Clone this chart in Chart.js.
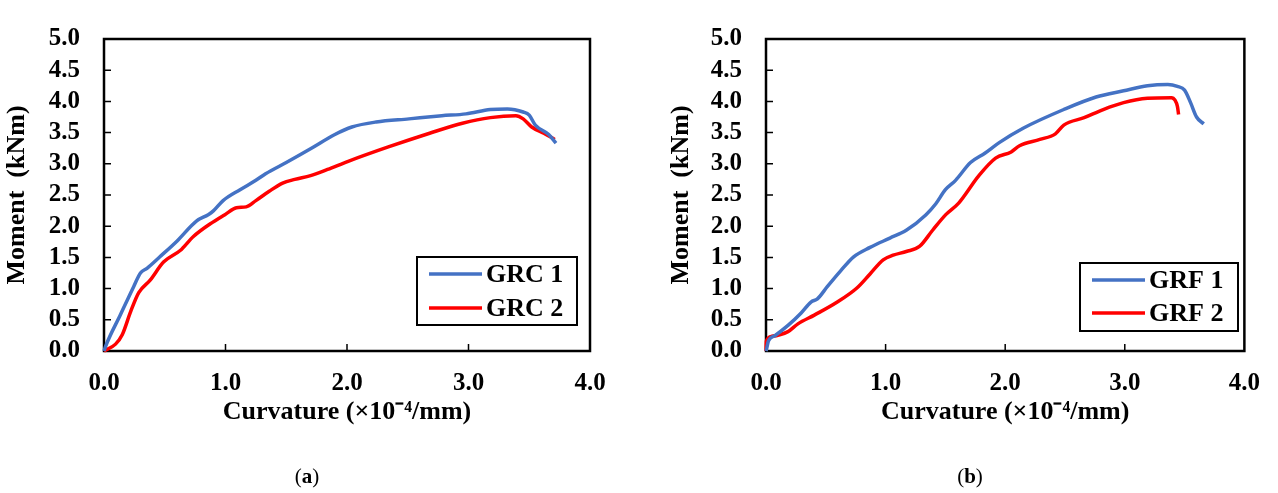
<!DOCTYPE html>
<html>
<head>
<meta charset="utf-8">
<script src="https://cdn.jsdelivr.net/npm/chart.js@4.4.0/dist/chart.umd.min.js"></script>
<style>
  body { margin: 0; background: #fff; }
  #wrap { position: relative; width: 1278px; height: 493px; background: #fff; overflow: hidden; }
  .panel { position: absolute; top: 0; height: 493px; }
  .cap { position: absolute; top: 464px; font: 21px "Liberation Serif", serif; color: #000; transform: translateX(-50%); }
</style>
</head>
<body>
<div id="wrap">
  <div class="panel" style="left:0;width:640px"><canvas id="chartA" width="640" height="493"></canvas></div>
  <div class="panel" style="left:640px;width:638px"><canvas id="chartB" width="638" height="493"></canvas></div>
  <div class="cap" style="left:307px">(<b>a</b>)</div>
  <div class="cap" style="left:970px">(<b>b</b>)</div>
</div>
<script>
// curvature (x10^-4/mm) and moment (kNm)
const grc1X = [0, 0.01, 0.136, 0.245, 0.30, 0.354, 0.46, 0.60, 0.763, 0.858, 0.90, 0.98, 1.12, 1.25, 1.33, 1.50, 1.70, 1.90, 2.04, 2.24, 2.51, 2.78, 2.98, 3.18, 3.32, 3.45, 3.50, 3.55, 3.66, 3.72];
const grc1Y = [0, 0.06, 0.585, 1.035, 1.25, 1.325, 1.51, 1.76, 2.085, 2.185, 2.245, 2.41, 2.585, 2.735, 2.84, 3.02, 3.24, 3.47, 3.59, 3.67, 3.72, 3.77, 3.80, 3.87, 3.88, 3.83, 3.78, 3.62, 3.47, 3.33];

const grc2X = [0, 0.01, 0.095, 0.15, 0.22, 0.286, 0.38, 0.49, 0.627, 0.736, 0.872, 0.995, 1.09, 1.17, 1.25, 1.36, 1.47, 1.57, 1.70, 1.84, 2.01, 2.34, 2.68, 2.95, 3.18, 3.39, 3.45, 3.52, 3.62, 3.71];
const grc2Y = [0, 0.01, 0.11, 0.26, 0.635, 0.935, 1.135, 1.425, 1.61, 1.835, 2.035, 2.185, 2.295, 2.31, 2.41, 2.56, 2.69, 2.75, 2.81, 2.91, 3.04, 3.27, 3.49, 3.65, 3.74, 3.77, 3.72, 3.59, 3.49, 3.39];

const grf1X = [0, 0.005, 0.02, 0.074, 0.184, 0.294, 0.376, 0.43, 0.514, 0.624, 0.733, 0.87, 1.036, 1.173, 1.338, 1.42, 1.50, 1.585, 1.71, 1.83, 1.95, 2.15, 2.49, 2.76, 2.99, 3.19, 3.36, 3.44, 3.50, 3.55, 3.60, 3.66];
const grf1Y = [0, 0.035, 0.16, 0.245, 0.41, 0.61, 0.785, 0.835, 1.035, 1.285, 1.51, 1.66, 1.81, 1.935, 2.185, 2.36, 2.585, 2.735, 3.02, 3.17, 3.34, 3.57, 3.87, 4.07, 4.17, 4.25, 4.27, 4.24, 4.18, 3.98, 3.75, 3.64];

const grf2X = [0, 0.003, 0.047, 0.184, 0.267, 0.404, 0.596, 0.76, 0.87, 0.98, 1.063, 1.173, 1.283, 1.393, 1.503, 1.613, 1.78, 1.92, 2.05, 2.12, 2.29, 2.42, 2.49, 2.66, 2.82, 2.99, 3.19, 3.39, 3.42, 3.44, 3.45];
const grf2Y = [0, 0.16, 0.235, 0.31, 0.435, 0.575, 0.785, 1.01, 1.235, 1.46, 1.535, 1.595, 1.675, 1.935, 2.185, 2.375, 2.81, 3.09, 3.19, 3.29, 3.39, 3.48, 3.62, 3.74, 3.87, 3.98, 4.05, 4.06, 4.02, 3.92, 3.79];

const xTitle = "Curvature (×10⁻⁴/mm)";
const yTitle = "Moment  (kNm)";

const BLUE = "#4472C4";
const RED = "#FF0000";

Chart.defaults.font.family = '"Liberation Serif", "Times New Roman", serif';
Chart.defaults.color = "#000";

function pts(xs, ys) {
  return xs.map((x, i) => ({ x: x, y: ys[i] }));
}

function series(label, xs, ys, color) {
  return {
    label: label,
    data: pts(xs, ys),
    borderColor: color,
    backgroundColor: color,
    borderWidth: 3.5,
    pointRadius: 0,
    cubicInterpolationMode: "monotone",
    clip: false,
  };
}

// box around the plot, inward ticks and the boxed legend
const framePlugin = {
  id: "frame",
  beforeDatasetsDraw(chart) {
    const { ctx, chartArea: a, scales } = chart;
    ctx.save();
    ctx.strokeStyle = "#000";
    ctx.lineWidth = 1.5;
    ctx.beginPath();
    scales.x.ticks.forEach((t) => {
      if (t.value <= scales.x.min || t.value >= scales.x.max) return;
      const px = scales.x.getPixelForValue(t.value);
      ctx.moveTo(px, a.bottom);
      ctx.lineTo(px, a.bottom - 7);
    });
    scales.y.ticks.forEach((t) => {
      if (t.value <= scales.y.min || t.value >= scales.y.max) return;
      const py = scales.y.getPixelForValue(t.value);
      ctx.moveTo(a.left, py);
      ctx.lineTo(a.left + 7, py);
    });
    ctx.stroke();
    ctx.lineWidth = 2.5;
    ctx.strokeRect(a.left, a.top, a.right - a.left, a.bottom - a.top);
    ctx.restore();
  },
  afterDraw(chart, args, opts) {
    if (!opts.box) return;
    const { ctx } = chart;
    const b = opts.box;
    ctx.save();
    ctx.fillStyle = "#fff";
    ctx.fillRect(b.x, b.y, b.w, b.h);
    ctx.strokeStyle = "#000";
    ctx.lineWidth = 2;
    ctx.strokeRect(b.x, b.y, b.w, b.h);
    ctx.font = 'bold 26px "Liberation Serif", serif';
    ctx.textBaseline = "middle";
    ctx.textAlign = "left";
    chart.data.datasets.forEach((ds, i) => {
      const ry = opts.rows[i];
      ctx.strokeStyle = ds.borderColor;
      ctx.lineWidth = 3.5;
      ctx.beginPath();
      ctx.moveTo(opts.lineX[0], ry);
      ctx.lineTo(opts.lineX[1], ry);
      ctx.stroke();
      ctx.fillStyle = "#000";
      ctx.fillText(ds.label, opts.textX, ry + 1);
    });
    ctx.restore();
  },
};

function makeOptions(pad, yWidth, yTitlePad, legend) {
  return {
    responsive: false,
    animation: false,
    layout: { padding: pad },
    plugins: {
      legend: { display: false },
      tooltip: { enabled: false },
      frame: legend,
    },
    scales: {
      x: {
        type: "linear",
        min: 0,
        max: 4,
        grid: { display: false, drawTicks: false },
        border: { display: false },
        ticks: {
          stepSize: 1,
          autoSkip: false,
          padding: 18,
          font: { size: 25, weight: "bold" },
          callback: (v) => v.toFixed(1),
        },
        title: {
          display: true,
          text: xTitle,
          font: { size: 26, weight: "bold" },
          padding: { top: 0, bottom: 0 },
        },
        afterFit: (s) => { s.height = 77; },
      },
      y: {
        min: 0,
        max: 5,
        grid: { display: false, drawTicks: false },
        border: { display: false },
        ticks: {
          stepSize: 0.5,
          autoSkip: false,
          padding: 24,
          font: { size: 25, weight: "bold" },
          callback: (v) => v.toFixed(1),
        },
        title: {
          display: true,
          text: yTitle,
          font: { size: 26, weight: "bold" },
          padding: { top: yTitlePad, bottom: 0 },
        },
        afterFit: (s) => { s.width = yWidth; },
      },
    },
  };
}

new Chart(document.getElementById("chartA"), {
  type: "line",
  data: {
    datasets: [
      series("GRC 1", grc1X, grc1Y, BLUE),
      series("GRC 2", grc2X, grc2Y, RED),
    ],
  },
  options: makeOptions({ left: 0, top: 20, right: 50, bottom: 65 }, 104, 1.5, {
    box: { x: 417, y: 257, w: 160, h: 68 },
    rows: [274, 308],
    lineX: [429, 482],
    textX: 486,
  }),
  plugins: [framePlugin],
});

new Chart(document.getElementById("chartB"), {
  type: "line",
  data: {
    datasets: [
      series("GRF 1", grf1X, grf1Y, BLUE),
      series("GRF 2", grf2X, grf2Y, RED),
    ],
  },
  options: makeOptions({ left: 24, top: 20, right: 27, bottom: 65 }, 102, 2, {
    box: { x: 440, y: 263, w: 158, h: 68 },
    rows: [280, 313],
    lineX: [452, 505],
    textX: 509,
  }),
  plugins: [framePlugin],
});
</script>
</body>
</html>
